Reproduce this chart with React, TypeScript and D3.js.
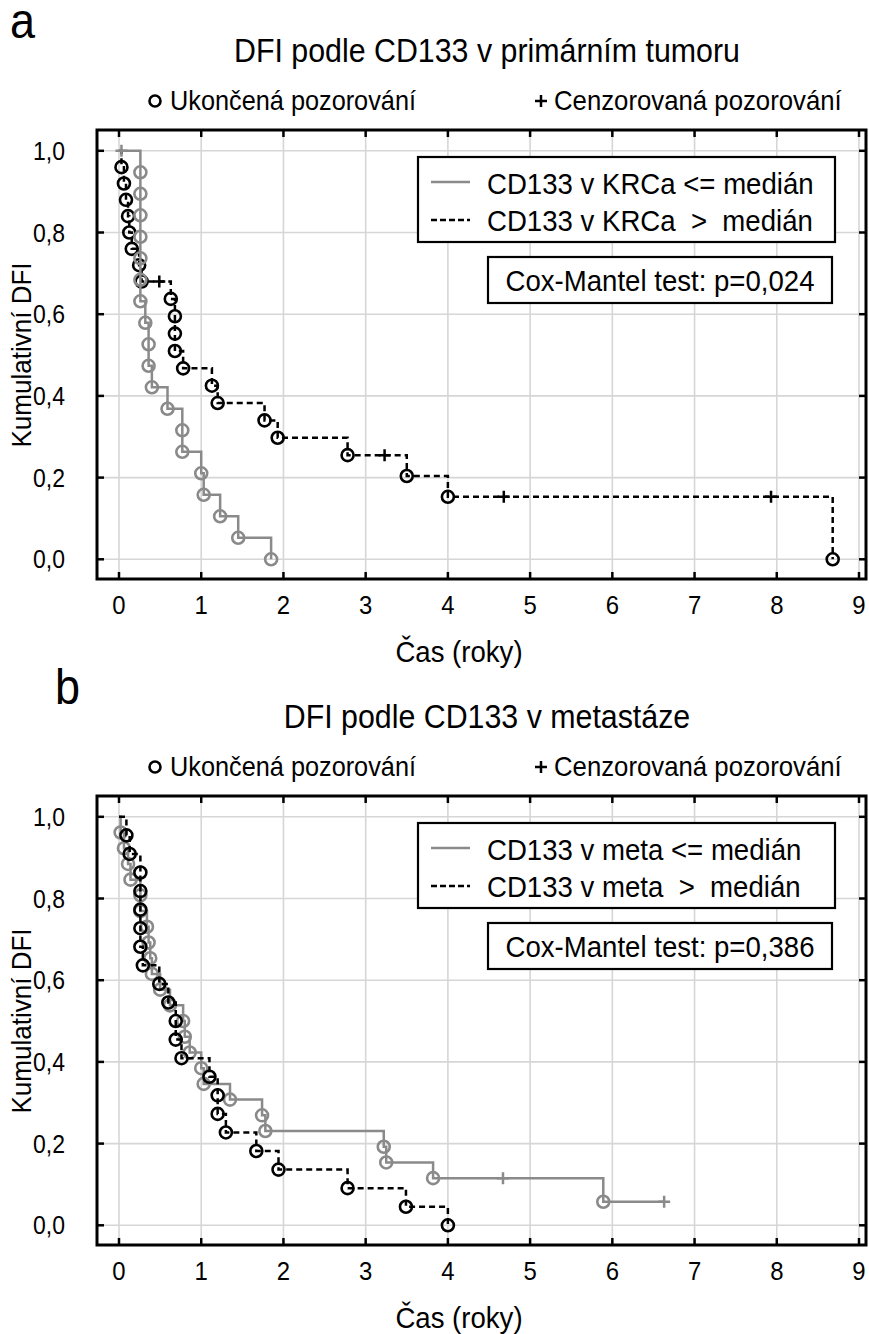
import React from 'react';
import * as d3 from 'd3';

const FONT = '"Liberation Sans", Arial, Helvetica, sans-serif';
const SX = 0.92;
const GRAY = '#8a8a8a';

const xTickValues = [0, 1, 2, 3, 4, 5, 6, 7, 8, 9];
const xTickLabels = ['0', '1', '2', '3', '4', '5', '6', '7', '8', '9'];
const yTickValues = [0, 0.2, 0.4, 0.6, 0.8, 1.0];
const yTickLabels = ['0,0', '0,2', '0,4', '0,6', '0,8', '1,0'];

// Panel a: CD133 v KRCa <= medián (gray)
const aLowEvents = [0.26, 0.26, 0.26, 0.26, 0.26, 0.26, 0.26, 0.32, 0.36, 0.36, 0.40, 0.59, 0.77, 0.77, 1.0, 1.03, 1.23, 1.45, 1.85];
const aLowCensored = [0.03];
// Panel a: CD133 v KRCa > medián (black dashed)
const aHighEvents = [0.03, 0.06, 0.085, 0.11, 0.125, 0.155, 0.245, 0.275, 0.63, 0.68, 0.68, 0.68, 0.78, 1.13, 1.2, 1.77, 1.93, 2.78, 3.5, 4.0, 8.68];
const aHighCensored = [0.49, 3.23, 4.68, 7.93];

// Panel b: CD133 v meta <= medián (gray)
const bLowEvents = [0.02, 0.06, 0.11, 0.14, 0.26, 0.26, 0.34, 0.36, 0.38, 0.4, 0.5, 0.62, 0.78, 0.8, 0.86, 1.0, 1.03, 1.35, 1.74, 1.78, 3.22, 3.25, 3.82, 5.89];
const bLowCensored = [4.67, 6.63];
// Panel b: CD133 v meta > medián (black dashed)
const bHighEvents = [0.09, 0.13, 0.26, 0.26, 0.26, 0.26, 0.26, 0.29, 0.49, 0.6, 0.69, 0.69, 0.76, 1.1, 1.2, 1.2, 1.3, 1.67, 1.94, 2.78, 3.49, 4.0];
const bHighCensored: number[] = [];

type Pt = { t: number; s: number; ev: boolean | null };

function km(events: number[], censored: number[]): Pt[] {
  const obs = [
    ...events.map((t) => ({ t, ev: true })),
    ...censored.map((t) => ({ t, ev: false })),
  ].sort((a, b) => a.t - b.t || (a.ev === b.ev ? 0 : a.ev ? -1 : 1));
  let n = obs.length;
  let s = 1;
  const pts: Pt[] = [{ t: 0, s: 1, ev: null }];
  for (const o of obs) {
    if (o.ev) s *= (n - 1) / n;
    n--;
    pts.push({ t: o.t, s, ev: o.ev });
  }
  return pts;
}

const T = ({ x, y, size, anchor = 'start', children, rot = false, sx = SX }: any) => (
  <text
    transform={`translate(${x},${y})${rot ? ' rotate(-90)' : ''} scale(${sx},1)`}
    fontSize={size}
    textAnchor={anchor}
    fontFamily={FONT}
    fill="#000"
    style={{ whiteSpace: 'pre' }}
  >
    {children}
  </text>
);

type Series = { events: number[]; censored: number[]; color: string; dash: string | undefined };

function Curve({ ser, x, y }: { ser: Series; x: any; y: any }) {
  const pts = km(ser.events, ser.censored);
  const line = d3
    .line<Pt>()
    .x((d) => x(d.t))
    .y((d) => y(d.s))
    .curve(d3.curveStepAfter);
  return (
    <g>
      <path d={line(pts) || ''} fill="none" stroke={ser.color} strokeWidth={2.5} strokeDasharray={ser.dash} />
      {pts
        .filter((p) => p.ev === true)
        .map((p, i) => (
          <circle key={'c' + i} cx={x(p.t)} cy={y(p.s)} r={6} fill="none" stroke={ser.color} strokeWidth={2.6} />
        ))}
      {pts
        .filter((p) => p.ev === false)
        .map((p, i) => (
          <path
            key={'p' + i}
            d={`M${x(p.t) - 6},${y(p.s)}H${x(p.t) + 6}M${x(p.t)},${y(p.s) - 6}V${y(p.s) + 6}`}
            stroke={ser.color}
            strokeWidth={2.5}
          />
        ))}
    </g>
  );
}

function Panel({ dy, letter, letterX, title, low, high, lowLabel, highLabel, pText, grayOnTop }: any) {
  const x = d3.scaleLinear().domain([0, 9]).range([119, 859]);
  const y = d3.scaleLinear().domain([0, 1]).range([559.3 + dy, 150.8 + dy]);
  const fL = 97, fR = 866, fT = 130 + dy, fB = 579 + dy;
  const curves = grayOnTop ? [high, low] : [low, high];
  return (
    <g>
      <T x={letterX} y={38 + dy} size={50} sx={0.9}>{letter}</T>
      <T x={487} y={62 + dy} size={33} anchor="middle">{title}</T>
      <circle cx={155} cy={101 + dy} r={5.5} fill="none" stroke="#000" strokeWidth={2.6} />
      <T x={170} y={110 + dy} size={27.5}>Ukončená pozorování</T>
      <path d={`M${535},${101 + dy}H${547}M${541},${95 + dy}V${107 + dy}`} stroke="#000" strokeWidth={2.5} />
      <T x={554} y={110 + dy} size={28}>Cenzorovaná pozorování</T>

      {/* grid */}
      {xTickValues.map((v) => (
        <line key={'gx' + v} x1={x(v)} x2={x(v)} y1={fT} y2={fB} stroke="#d6d6d6" strokeWidth={1.6} />
      ))}
      {yTickValues.map((v) => (
        <line key={'gy' + v} x1={fL} x2={fR} y1={y(v)} y2={y(v)} stroke="#d6d6d6" strokeWidth={1.6} />
      ))}

      {curves.map((c: Series, i: number) => (
        <Curve key={i} ser={c} x={x} y={y} />
      ))}

      {/* legend */}
      <rect x={418} y={157 + dy} width={417} height={85} fill="#fff" stroke="#000" strokeWidth={2.2} />
      <line x1={431} x2={470} y1={182 + dy} y2={182 + dy} stroke={GRAY} strokeWidth={2.5} />
      <line x1={431} x2={470} y1={220 + dy} y2={220 + dy} stroke="#000" strokeWidth={2.5} strokeDasharray="6,3" />
      <T x={487} y={194 + dy} size={30}>{lowLabel}</T>
      <T x={487} y={231 + dy} size={30}>{highLabel}</T>
      <rect x={488} y={257 + dy} width={344} height={46} fill="#fff" stroke="#000" strokeWidth={2.2} />
      <T x={660} y={291 + dy} size={30} anchor="middle">{pText}</T>

      {/* frame and ticks */}
      <rect x={fL} y={fT} width={fR - fL} height={fB - fT} fill="none" stroke="#000" strokeWidth={3} />
      {xTickValues.map((v) => (
        <g key={'tx' + v}>
          <line x1={x(v)} x2={x(v)} y1={fB} y2={fB - 7} stroke="#000" strokeWidth={2.5} />
          <line x1={x(v)} x2={x(v)} y1={fT} y2={fT + 7} stroke="#000" strokeWidth={2.5} />
        </g>
      ))}
      {yTickValues.map((v) => (
        <g key={'ty' + v}>
          <line x1={fL} x2={fL + 7} y1={y(v)} y2={y(v)} stroke="#000" strokeWidth={2.5} />
          <line x1={fR} x2={fR - 7} y1={y(v)} y2={y(v)} stroke="#000" strokeWidth={2.5} />
        </g>
      ))}
      {xTickValues.map((v, i) => (
        <T key={'lx' + v} x={x(v)} y={614 + dy} size={26} anchor="middle">{xTickLabels[i]}</T>
      ))}
      {yTickValues.map((v, i) => (
        <T key={'ly' + v} x={65} y={y(v) + 9} size={25} anchor="end">{yTickLabels[i]}</T>
      ))}
      <T x={459} y={662 + dy} size={30} anchor="middle">Čas (roky)</T>
      <T x={31} y={355 + dy} size={28} anchor="middle" rot sx={0.93}>Kumulativní DFI</T>
    </g>
  );
}

export default function App() {
  const grayA: Series = { events: aLowEvents, censored: aLowCensored, color: GRAY, dash: undefined };
  const blackA: Series = { events: aHighEvents, censored: aHighCensored, color: '#000', dash: '6,4' };
  const grayB: Series = { events: bLowEvents, censored: bLowCensored, color: GRAY, dash: undefined };
  const blackB: Series = { events: bHighEvents, censored: bHighCensored, color: '#000', dash: '6,4' };
  return (
    <svg
      width={869}
      height={1334}
      style={{ position: 'absolute', left: 0, top: 0, background: '#fff' }}
    >
      <rect x={0} y={0} width={869} height={1334} fill="#fff" />
      <Panel
        dy={0}
        letter="a"
        letterX={10}
        title="DFI podle CD133 v primárním tumoru"
        low={grayA}
        high={blackA}
        lowLabel="CD133 v KRCa <= medián"
        highLabel="CD133 v KRCa  >  medián"
        pText="Cox-Mantel test: p=0,024"
        grayOnTop={true}
      />
      <Panel
        dy={666}
        letter="b"
        letterX={55}
        title="DFI podle CD133 v metastáze"
        low={grayB}
        high={blackB}
        lowLabel="CD133 v meta <= medián"
        highLabel="CD133 v meta  >  medián"
        pText="Cox-Mantel test: p=0,386"
        grayOnTop={false}
      />
    </svg>
  );
}
